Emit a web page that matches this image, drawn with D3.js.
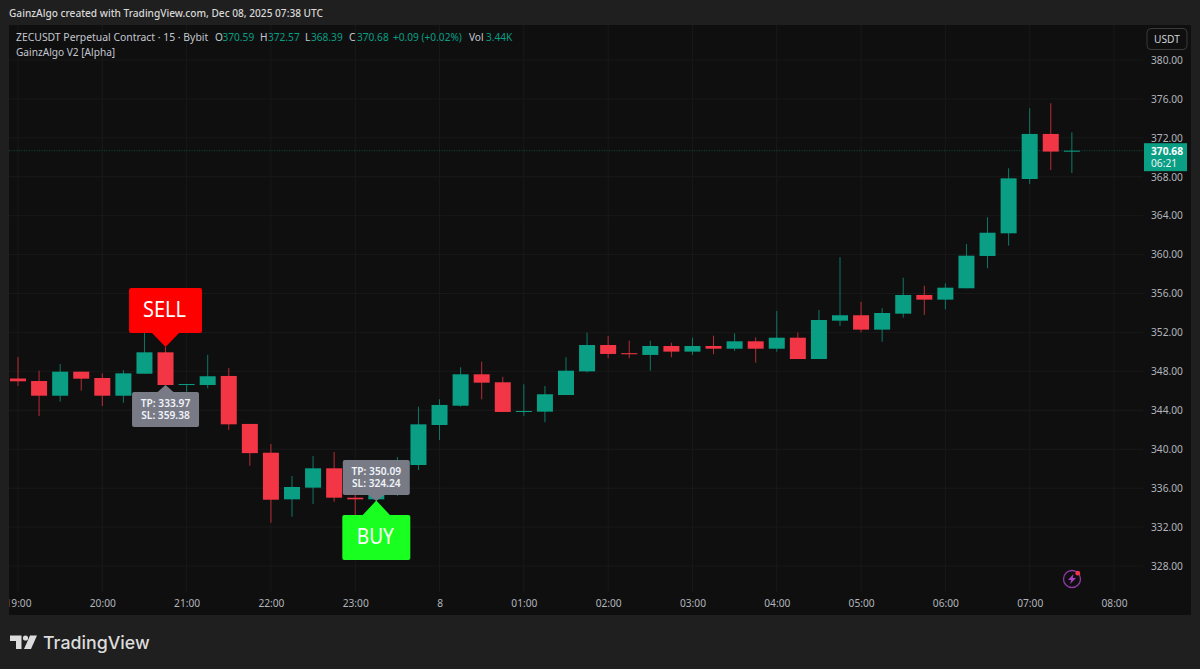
<!DOCTYPE html>
<html><head><meta charset="utf-8">
<script src="https://cdn.jsdelivr.net/npm/d3@7/dist/d3.min.js"></script>
<style>html,body{margin:0;padding:0;background:#1f1f1f;overflow:hidden}svg{display:block}text{font-family:"Noto Sans",sans-serif}</style>
</head><body><svg id="c" width="1200" height="669"></svg>
<script>
const opens =[347.27,347.01,345.5,347.97,347.32,345.5,347.76,349.96,346.66,346.6,347.53,342.6,339.64,334.85,336.05,338.04,335.02,334.85,336,338.38,342.49,344.47,347.7,346.88,343.9,343.86,345.57,348.0,350.71,349.87,349.69,350.61,350.03,350.61,350.33,351.09,350.33,351.46,349.27,353.21,353.77,352.29,353.93,355.85,355.37,356.54,359.86,362.19,367.77,372.4,370.59];
const closes=[346.98,345.5,347.97,347.25,345.5,347.8,349.96,346.6,346.7,347.5,342.56,339.6,334.81,336.12,338.04,335.02,334.85,336,338.5,342.56,344.55,347.7,346.84,343.83,343.93,345.65,348.07,350.71,349.79,349.76,350.61,350.03,350.61,350.33,351.09,350.33,351.46,349.27,353.28,353.77,352.29,354.0,355.85,355.37,356.6,359.89,362.25,367.84,372.4,370.59,370.68];
const highs =[349.48,348.07,348.76,347.97,347.8,348.14,351.95,350.5,346.7,349.7,348.35,342.6,340.54,337.25,339.3,339.72,335.6,336.2,339.2,344.37,345.13,348.42,349.0,347.45,346.67,346.5,349.45,351.98,351.64,351.15,351.15,350.95,351.46,351.67,351.92,351.5,354.2,352.0,354.31,359.73,355.16,354.49,357.63,356.81,357.05,361.1,363.84,368.87,375.04,375.56,372.57];
const lows  =[346.5,343.42,344.89,346.02,344.44,344.78,347.76,346.6,345.9,346.26,341.98,338.3,332.45,333.07,334.37,334.6,333.24,334.7,335.2,337.87,340.95,344.37,345.13,343.83,343.42,342.77,345.57,347.9,349.35,349.35,348.07,349.45,349.69,349.76,350.1,348.9,350.02,349.27,349.27,352.67,352.02,351.05,353.52,353.8,354.38,356.54,358.6,360.92,367.26,368.7,368.39];
const priceTicks=[328,332,336,340,344,348,352,356,360,364,368,372,376,380];
const timeLabels=["19:00","20:00","21:00","22:00","23:00","8","01:00","02:00","03:00","04:00","05:00","06:00","07:00","08:00"];
const legendItems=[["ZECUSDT Perpetual Contract · 15 · Bybit","#c4c7cf"],["O","#c4c7cf"],["370.59","#0a9e85"],["H","#c4c7cf"],["372.57","#0a9e85"],["L","#c4c7cf"],["368.39","#0a9e85"],["C","#c4c7cf"],["370.68","#0a9e85"],["+0.09 (+0.02%)","#0a9e85"],["Vol","#c4c7cf"],["3.44K","#0a9e85"]];
const lastPrice=370.68;
const signals=[{label:"SELL",idx:7,tip:"TP: 333.97",sl:"SL: 359.38"},{label:"BUY",idx:17,tip:"TP: 350.09",sl:"SL: 324.24"}];

const UP="#0a9e85",DOWN="#f23645",GRID="#191919";
const svg=d3.select("#c");
const t0=Date.UTC(2025,11,7,19,0);
const HOUR=36e5;
const barTime=i=>new Date(t0+i*HOUR/4);
const x=d3.scaleUtc().domain([new Date(t0),new Date(t0+13*HOUR)]).range([18,1114]);
const y=d3.scaleLinear().domain([328,380]).range([566,60]);

const defs=svg.append("defs");
defs.append("clipPath").attr("id","pane").append("rect").attr("x",9).attr("y",25).attr("width",1182).attr("height",590);

svg.append("rect").attr("width",1200).attr("height",669).attr("fill","#1f1f1f");
svg.append("rect").attr("x",9).attr("y",25).attr("width",1182).attr("height",590).attr("fill","#0f0f0f");

// header
svg.append("text").attr("x",9).attr("y",17).attr("fill","#d8d8d8").attr("font-size",10.15).attr("font-weight",500)
  .text("GainzAlgo created with TradingView.com, Dec 08, 2025 07:38 UTC");

const hourTicks=timeLabels.map((_,i)=>new Date(t0+i*HOUR));
const plot=svg.append("g").attr("clip-path","url(#pane)");
// grid
plot.append("g").selectAll("line").data(hourTicks).join("line")
  .attr("x1",d=>x(d)).attr("x2",d=>x(d)).attr("y1",25).attr("y2",592).attr("stroke",GRID);
plot.append("g").selectAll("line").data(priceTicks).join("line")
  .attr("x1",9).attr("x2",1143).attr("y1",d=>y(d)).attr("y2",d=>y(d)).attr("stroke",GRID);

// price line
plot.append("line").attr("x1",9).attr("x2",1144).attr("y1",y(lastPrice)).attr("y2",y(lastPrice))
  .attr("stroke",UP).attr("stroke-opacity",.45).attr("stroke-dasharray","1 1.5");

// candles
const bars=plot.append("g").selectAll("g").data(opens.map((o,i)=>({i,o,c:closes[i],h:highs[i],l:lows[i]}))).join("g");
bars.append("line").attr("x1",d=>x(barTime(d.i))).attr("x2",d=>x(barTime(d.i)))
  .attr("y1",d=>y(d.h)).attr("y2",d=>y(d.l)).attr("stroke",d=>d.c>=d.o?UP:DOWN).attr("stroke-opacity",.75);
bars.append("rect").attr("x",d=>x(barTime(d.i))-8).attr("width",16)
  .attr("y",d=>y(Math.max(d.o,d.c))).attr("height",d=>Math.max(1,Math.abs(y(d.o)-y(d.c))))
  .attr("fill",d=>d.c>=d.o?UP:DOWN);

// signals
const sx=s=>x(barTime(s.idx));
function tooltip(g,s,cx,boxTop,tipY,dir){
  const w=67,h=35;
  const base=dir<0?boxTop+0.5:boxTop+h-0.5;
  g.append("path").attr("d",`M${cx-8.5},${base}L${cx},${tipY}L${cx+8.5},${base}Z`).attr("fill","#787b86");
  g.append("rect").attr("x",cx-33.5).attr("y",boxTop).attr("width",w).attr("height",h).attr("rx",2).attr("fill","#787b86");
  g.append("text").attr("x",cx).attr("y",boxTop+15).attr("text-anchor","middle").attr("font-size",10.2).attr("font-weight",600).attr("fill","#f0f3fa").text(s.tip);
  g.append("text").attr("x",cx).attr("y",boxTop+27).attr("text-anchor","middle").attr("font-size",10.2).attr("font-weight",600).attr("fill","#f0f3fa").text(s.sl);
}
const sg=svg.append("g");
signals.forEach(s=>{
  const cx=sx(s);
  if(s.label==="SELL"){
    sg.append("rect").attr("x",cx-36.5).attr("y",288).attr("width",73).attr("height",45).attr("rx",2).attr("fill","#ff0000");
    sg.append("path").attr("d",`M${cx-14},332.5L${cx},347L${cx+14},332.5Z`).attr("fill","#ff0000");
    sg.append("text").attr("x",cx-1).attr("y",317).attr("text-anchor","middle").attr("font-size",21).attr("textLength",43).attr("lengthAdjust","spacingAndGlyphs").attr("fill","#fff").text(s.label);
    tooltip(sg,s,cx,392,385,-1);
  }else{
    tooltip(sg,s,cx,460,501,1);
    sg.append("rect").attr("x",cx-34).attr("y",515).attr("width",68).attr("height",45).attr("rx",2).attr("fill","#19ff1f");
    sg.append("path").attr("d",`M${cx-14},515.5L${cx},500.5L${cx+14},515.5Z`).attr("fill","#19ff1f");
    sg.append("text").attr("x",cx-1).attr("y",543.5).attr("text-anchor","middle").attr("font-size",21).attr("textLength",37).attr("lengthAdjust","spacingAndGlyphs").attr("fill","#fff").text(s.label);
  }
});

// axes
const yAxis=d3.axisRight(y).tickValues(priceTicks).tickSize(0).tickPadding(0).tickFormat(d3.format(".2f"));
const ya=svg.append("g").attr("transform","translate(1151,0)").call(yAxis);
ya.select(".domain").remove();
ya.selectAll("text").attr("font-size",10.2).attr("fill","#b2b5be").attr("font-family","'Noto Sans',sans-serif");

const xAxis=d3.axisBottom(x).tickValues(hourTicks).tickSize(0).tickPadding(0).tickFormat((d,i)=>timeLabels[i]);
const xa=svg.append("g").attr("clip-path","url(#pane)").append("g").attr("transform","translate(0,600)").call(xAxis);
xa.select(".domain").remove();
xa.selectAll("text").attr("font-size",10.2).attr("fill","#b2b5be").attr("font-family","'Noto Sans',sans-serif");

// last price tag
svg.append("rect").attr("x",1144).attr("y",y(lastPrice)-7.5).attr("width",43).attr("height",28).attr("fill",UP);
svg.append("text").attr("x",1183).attr("y",y(lastPrice)+4).attr("text-anchor","end").attr("font-size",10.2).attr("font-weight",700).attr("fill","#fff").text(lastPrice.toFixed(2));
svg.append("text").attr("x",1151).attr("y",y(lastPrice)+16).attr("font-size",10.2).attr("fill","#e8f5f2").text("06:21");

// USDT button
svg.append("rect").attr("x",1147).attr("y",28.5).attr("width",40).attr("height",21).attr("rx",4).attr("fill","#0f0f0f").attr("stroke","#3a3a3a");
svg.append("text").attr("x",1167).attr("y",43).attr("text-anchor","middle").attr("font-size",10.2).attr("fill","#d1d4dc").text("USDT");

// legend
const legendX=[16,215,222.5,260,268,305,311,349,357,393,469,486];
const lg=svg.append("g");
lg.selectAll("text").data(legendItems).join("text").attr("x",(d,i)=>legendX[i]).attr("y",41)
  .attr("font-size",(d,i)=>i===0?10.4:10.15).attr("fill",d=>d[1]).text(d=>d[0]);
svg.append("text").attr("x",16).attr("y",56).attr("font-size",10.15).attr("fill","#c4c7cf").text("GainzAlgo V2 [Alpha]");

// bolt icon
const ic=svg.append("g").attr("transform","translate(1072,579)");
ic.append("circle").attr("r",8.5).attr("fill","none").attr("stroke","#8f3aa5").attr("stroke-width",1.3);
ic.append("path").attr("d","M1.5,-5L-4,1L-0.8,1L-2,5L4,-1L0.8,-1Z").attr("fill","#a83fc4");
ic.append("circle").attr("cx",5.8).attr("cy",-5.8).attr("r",2.4).attr("fill","#f23645");

// logo
const logo=svg.append("g").attr("fill","#dcdcdc");
logo.append("path").attr("d","M10,635.5H21.5V649H16V641H10Z");
logo.append("circle").attr("cx",25.5).attr("cy",638).attr("r",2.6);
logo.append("path").attr("d","M30,635.5H37L31,649H24Z");
svg.append("text").attr("x",43).attr("y",648.5).attr("font-size",17.8).attr("font-weight",500).attr("fill","#dcdcdc").style("font-family","Inter,sans-serif").text("TradingView");
</script></body></html>
